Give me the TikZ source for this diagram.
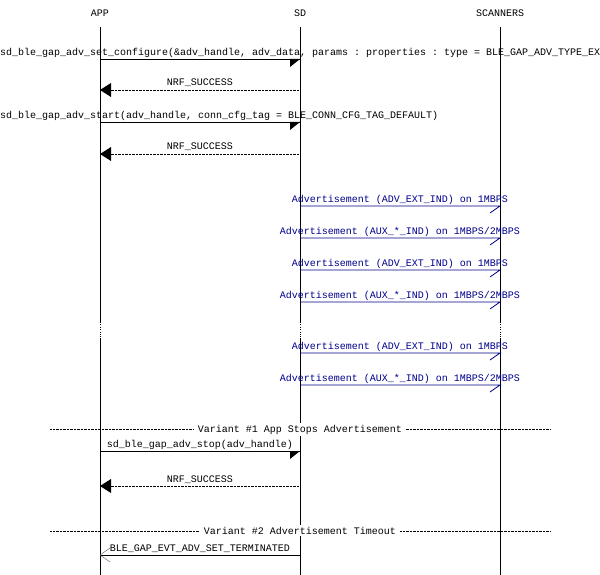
\documentclass[tikz,border=0pt]{standalone}
\usepackage{fontspec}
\setmonofont{Liberation Mono}
\begin{document}
\begin{tikzpicture}[x=1pt,y=-1pt,font=\ttfamily\fontsize{10}{11}\selectfont,
  lbl/.style={inner sep=0pt,anchor=base},
  blu/.style={draw=blue!55!black,line width=0.8pt}]
\useasboundingbox (0,0) rectangle (600,575);
\clip (0,0) rectangle (600,575);
\node[lbl] (app) at (100,17) {APP};
\node[lbl] (sd) at (300,17) {SD};
\node[lbl] (sc) at (500,17) {SCANNERS};
\foreach \x in {100,300,500}{
  \draw (\x,27) -- (\x,322);
  \draw[dotted] (\x,322) -- (\x,338);
  \draw (\x,338) -- (\x,575);
}
\newcommand{\callR}[2]{\draw (100,#1) -- (300,#1); \fill (300,#1)--(290,#1)--(290,#1+8)--cycle;
  \node[lbl,anchor=base west] at (0,#1-3) {#2};}
\newcommand{\retL}[1]{\draw[densely dotted] (300,#1) -- (110,#1); \fill (100,#1)--(111,#1-7)--(111,#1+7)--cycle;
  \node[lbl] at (200,#1-4) {NRF\_SUCCESS};}
\callR{59}{sd\_ble\_gap\_adv\_set\_configure(\&adv\_handle, adv\_data, params : properties : type = BLE\_GAP\_ADV\_TYPE\_EXTENDED\_NONCONNECTABLE\_NONSCANNABLE\_UNDIRECTED)}
\retL{90}
\callR{122}{sd\_ble\_gap\_adv\_start(adv\_handle, conn\_cfg\_tag = BLE\_CONN\_CFG\_TAG\_DEFAULT)}
\retL{154}
\foreach \y/\t in {206/ADV\_EXT\_IND,270/ADV\_EXT\_IND,353/ADV\_EXT\_IND}{
  \draw[blu] (300,\y) -- (500,\y) -- (490,\y+7);
  \node[lbl,text=blue!55!black] at (400,\y-4) {Advertisement (\t) on 1MBPS};}
\foreach \y in {238,302,385}{
  \draw[blu] (300,\y) -- (500,\y) -- (490,\y+7);
  \node[lbl,text=blue!55!black] at (400,\y-4) {Advertisement (AUX\_*\_IND) on 1MBPS/2MBPS};}
\draw[densely dotted] (50,429) -- (550,429);
\node[lbl,fill=white,inner xsep=4pt,inner ysep=2pt] at (300,432) {Variant \#1 App Stops Advertisement};
\callR{451}{}
\node[lbl] at (200,447) {sd\_ble\_gap\_adv\_stop(adv\_handle)};
\retL{486}
\draw[densely dotted] (50,531) -- (550,531);
\node[lbl,fill=white,inner xsep=4pt,inner ysep=2pt] at (300,534) {Variant \#2 Advertisement Timeout};
\draw (300,555) -- (100,555);
\draw[gray!70!black] (110,548) -- (100,555) -- (110,562);
\node[lbl] at (200,551) {BLE\_GAP\_EVT\_ADV\_SET\_TERMINATED};
\end{tikzpicture}
\end{document}
